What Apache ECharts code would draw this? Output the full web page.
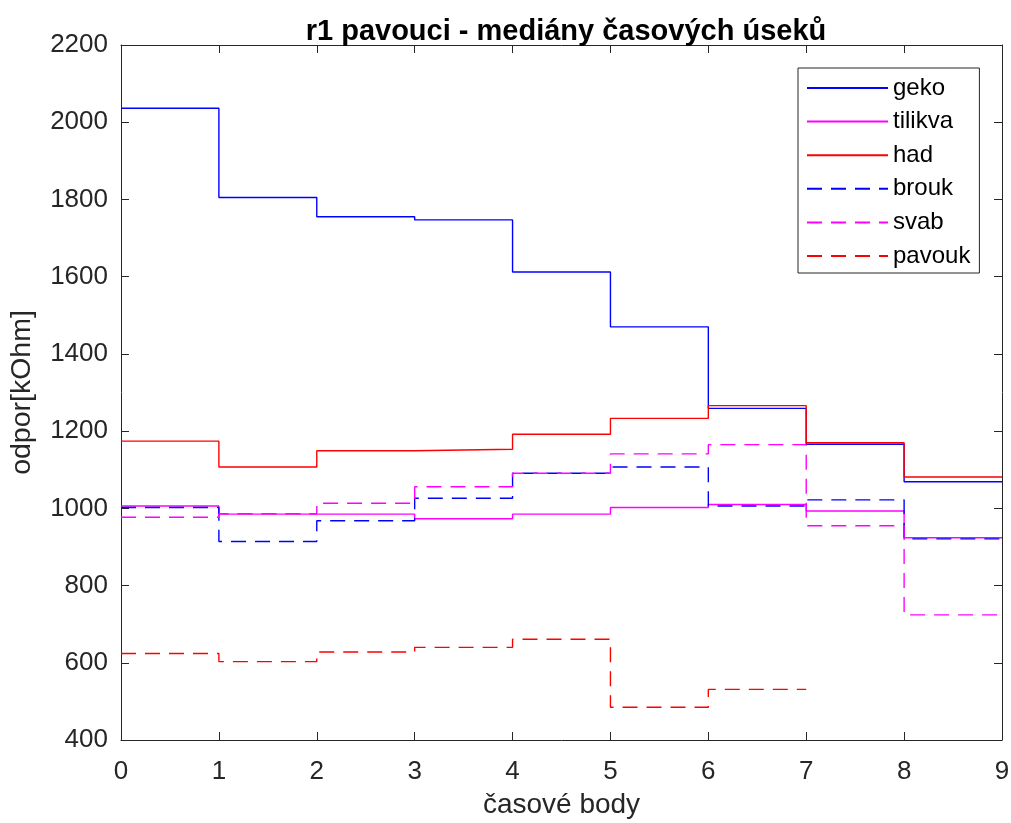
<!DOCTYPE html>
<html>
<head>
<meta charset="utf-8">
<script src="https://cdn.jsdelivr.net/npm/echarts@6/dist/echarts.min.js"></script>
<style>
  html, body { margin: 0; padding: 0; background: #fff; }
  #chart { width: 1011px; height: 823px; }
</style>
</head>
<body>
<div id="chart"></div>
<script>
// Median value of each time segment (segment i spans body i .. i+1)
const timePoints = [0, 1, 2, 3, 4, 5, 6, 7, 8, 9];
const geko    = [2036, 1805, 1755, 1747, 1612, 1470, 1259, 1166, 1069];
const tilikva = [1006, 985, 985, 973, 985, 1002, 1010, 993, 924];
const had     = [1174, 1107, 1149, 1153, 1192, 1233, 1266, 1170, 1081];
const brouk   = [1002, 914, 968, 1026, 1091, 1107, 1006, 1022, 921];
const svab    = [977, 986, 1013, 1056, 1091, 1141, 1165, 955, 724];
const pavouk  = [624, 603, 628, 640, 661, 485, 531];

const yTicks = { min: 400, max: 2200, step: 200 };

const axisColor = '#262626';
const font = 'Liberation Sans, Arial, sans-serif';

// Stairs: each value holds from its time point to the next one
function stairs(values) {
  const pts = values.map((v, i) => [timePoints[i], v]);
  pts.push([timePoints[values.length], values[values.length - 1]]);
  return pts;
}

function series(name, values, color, dashed) {
  return {
    name: name,
    type: 'line',
    step: 'end',
    symbol: 'none',
    data: stairs(values),
    lineStyle: { color: color, width: 1.4, type: dashed ? [15, 9] : 'solid' },
    itemStyle: { color: color },
    emphasis: { disabled: true },
    animation: false
  };
}

const chart = echarts.init(document.getElementById('chart'), null, { renderer: 'canvas' });

const tickCommon = { show: true, inside: true, length: 8, lineStyle: { color: axisColor, width: 1 } };
const lineCommon = { show: true, onZero: false, lineStyle: { color: axisColor, width: 1 } };

chart.setOption({
  backgroundColor: '#ffffff',
  animation: false,
  title: {
    text: 'r1 pavouci - mediány časových úseků',
    left: 561, top: 12, textAlign: 'center',
    textStyle: { fontFamily: font, fontSize: 29, fontWeight: 'bold', color: '#000' }
  },
  grid: { left: 121, right: 9, top: 45, bottom: 83, containLabel: false, outerBoundsMode: 'none' },
  legend: {
    orient: 'vertical',
    left: 798, top: 68,
    padding: [8, 9, 5, 8],
    itemWidth: 81, itemHeight: 14, itemGap: 9.6,
    borderColor: axisColor, borderWidth: 1, backgroundColor: '#fff',
    itemStyle: { opacity: 0 },
    textStyle: { fontFamily: font, fontSize: 24, lineHeight: 24, color: '#000' },
    data: ['geko', 'tilikva', 'had', 'brouk', 'svab', 'pavouk']
  },
  xAxis: [{
    type: 'value', min: 0, max: 9, interval: 1,
    name: 'časové body', nameLocation: 'middle', nameGap: 51,
    nameTextStyle: { fontFamily: font, fontSize: 28, color: axisColor },
    axisLine: lineCommon,
    axisTick: tickCommon,
    axisLabel: { fontFamily: font, fontSize: 26, color: axisColor, margin: 19 },
    splitLine: { show: false }
  }, {
    type: 'value', min: 0, max: 9, interval: 1, position: 'top',
    axisLine: lineCommon, axisTick: tickCommon, axisLabel: { show: false }, splitLine: { show: false }
  }],
  yAxis: [{
    type: 'value', min: yTicks.min, max: yTicks.max, interval: yTicks.step,
    name: 'odpor[kOhm]', nameLocation: 'middle', nameGap: 84,
    nameTextStyle: { fontFamily: font, fontSize: 28.5, color: axisColor },
    axisLine: lineCommon,
    axisTick: tickCommon,
    axisLabel: { fontFamily: font, fontSize: 26, color: axisColor, margin: 13, formatter: v => String(v) },
    splitLine: { show: false }
  }, {
    type: 'value', min: yTicks.min, max: yTicks.max, interval: yTicks.step, position: 'right',
    axisLine: lineCommon, axisTick: tickCommon, axisLabel: { show: false }, splitLine: { show: false }
  }],
  series: [
    series('geko', geko, '#0000ff', false),
    series('tilikva', tilikva, '#ff00ff', false),
    series('had', had, '#ff0000', false),
    series('brouk', brouk, '#0000ff', true),
    series('svab', svab, '#ff00ff', true),
    series('pavouk', pavouk, '#ff0000', true)
  ]
});
</script>
</body>
</html>
